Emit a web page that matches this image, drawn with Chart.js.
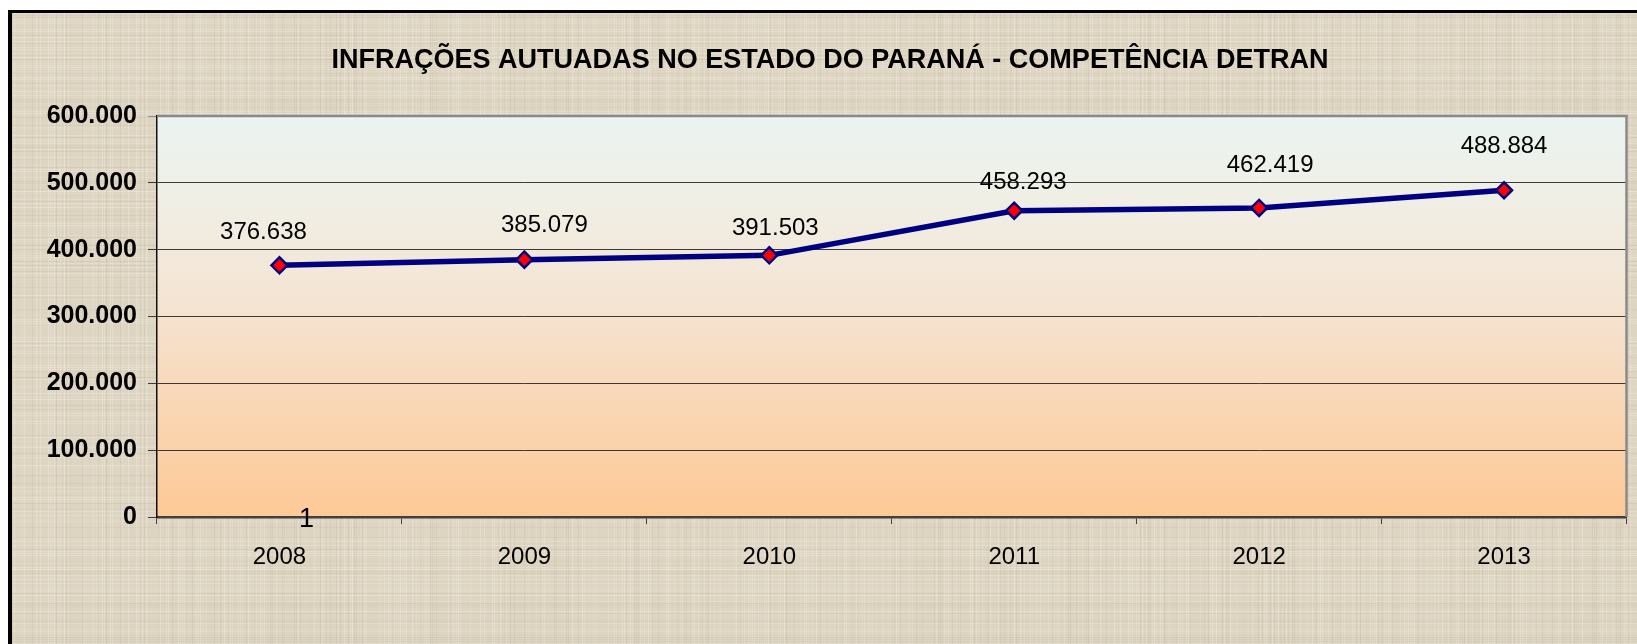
<!DOCTYPE html>
<html><head><meta charset="utf-8">
<script src="https://cdn.jsdelivr.net/npm/chart.js@4.4.0/dist/chart.umd.min.js"></script>
<style>html,body{margin:0;padding:0;background:#fff;overflow:hidden}#wrap{width:1637px;height:644px;position:relative}canvas{display:block}</style>
</head><body><div id="wrap"><canvas id="c" width="1637" height="644"></canvas></div>
<script>
const titleText = 'INFRAÇÕES AUTUADAS NO ESTADO DO PARANÁ - COMPETÊNCIA DETRAN';
const years = ['2008', '2009', '2010', '2011', '2012', '2013'];
const infracoes = [376638, 385079, 391503, 458293, 462419, 488884];
const yMin = 0, yMax = 600000, yStep = 100000;
const strayLabel = '1';

const FONT = '"Liberation Sans", Arial, Helvetica, sans-serif';
function fmt(n) { return String(n).replace(/\B(?=(\d{3})+(?!\d))/g, '.'); }
function hash(i) { const s = Math.sin(i * 12.9898 + 78.233) * 43758.5453; return s - Math.floor(s); }

const backgroundPlugin = {
  id: 'bg',
  beforeDraw(chart) {
    const ctx = chart.ctx, W = chart.width, H = chart.height;
    ctx.save();
    ctx.fillStyle = '#ffffff'; ctx.fillRect(0, 0, W, H);
    ctx.fillStyle = '#ddd4c1'; ctx.fillRect(8, 10, W - 8, H - 10);
    // fine linen texture
    for (let x = 12, k = 0; x < W; x += 2, k++) {
      const h = hash(k);
      if (h > 0.6) { ctx.fillStyle = 'rgba(246,242,232,' + (0.12 + 0.25 * hash(k + 500)) + ')'; ctx.fillRect(x, 13, 1, H); }
      else if (h < 0.2) { ctx.fillStyle = 'rgba(175,163,140,' + (0.06 + 0.14 * hash(k + 900)) + ')'; ctx.fillRect(x, 13, 1, H); }
    }
    for (let y = 13, k = 0; y < H; y += 2, k++) {
      const h = hash(k + 3000);
      if (h > 0.6) { ctx.fillStyle = 'rgba(246,242,232,' + (0.12 + 0.25 * hash(k + 3500)) + ')'; ctx.fillRect(12, y, W, 1); }
      else if (h < 0.2) { ctx.fillStyle = 'rgba(175,163,140,' + (0.06 + 0.14 * hash(k + 3900)) + ')'; ctx.fillRect(12, y, W, 1); }
    }
    ctx.fillStyle = '#000';
    ctx.fillRect(8, 10, 4, H - 10);
    ctx.fillRect(8, 10, W - 8, 3);
    // plot area gradient
    const a = chart.chartArea;
    const g = ctx.createLinearGradient(0, a.top, 0, a.bottom);
    g.addColorStop(0, '#eaf4f1');
    g.addColorStop(0.2, '#f0efe6');
    g.addColorStop(0.45, '#f4e5d4');
    g.addColorStop(1, '#fec996');
    ctx.fillStyle = g;
    ctx.fillRect(a.left, a.top, a.right - a.left, a.bottom - a.top);
    // title
    ctx.fillStyle = '#000';
    ctx.font = 'bold 28px ' + FONT;
    ctx.textAlign = 'center'; ctx.textBaseline = 'middle';
    ctx.fillText(titleText, 830, 60, 997);
    ctx.restore();
  },
  afterDraw(chart) {
    const ctx = chart.ctx, a = chart.chartArea;
    ctx.save();
    ctx.strokeStyle = '#8a8a8a'; ctx.lineWidth = 2.5;
    ctx.beginPath(); ctx.moveTo(a.left, a.top); ctx.lineTo(a.right, a.top); ctx.lineTo(a.right, a.bottom); ctx.stroke();
    ctx.restore();
  }
};

const valueLabelPlugin = {
  id: 'valueLabels',
  afterDatasetsDraw(chart, args, opts) {
    const ctx = chart.ctx, meta = chart.getDatasetMeta(0);
    const ds = chart.data.datasets[0].data;
    ctx.save();
    ctx.fillStyle = '#000';
    ctx.font = '24px ' + FONT;
    ctx.textAlign = 'center'; ctx.textBaseline = 'middle';
    meta.data.forEach((pt, i) => {
      const o = opts.offsets[i] || [0, -32];
      ctx.fillText(fmt(ds[i]), pt.x + o[0], pt.y + o[1]);
    });
    // stray "1" label sitting on the axis under 2008
    const xs = chart.scales.x, ys = chart.scales.y;
    ctx.font = '27px ' + FONT;
    ctx.fillText(strayLabel, xs.getPixelForValue(0) + 27, ys.getPixelForValue(0) + 3);
    ctx.restore();
  }
};

new Chart(document.getElementById('c'), {
  type: 'line',
  data: {
    labels: years,
    datasets: [{
      data: infracoes,
      borderColor: '#000080',
      borderWidth: 5.5,
      pointStyle: 'rectRot',
      pointRadius: 8,
      pointBorderWidth: 2.5,
      pointBackgroundColor: '#ff0000',
      pointBorderColor: '#000080',
      tension: 0,
      clip: false
    }]
  },
  options: {
    responsive: false,
    animation: false,
    devicePixelRatio: 1,
    layout: { padding: { left: 0, right: 4, top: 116, bottom: 57 } },
    plugins: {
      legend: { display: false },
      tooltip: { enabled: false },
      title: { display: false },
      valueLabels: { offsets: [[-16, -33], [20, -34], [6, -27], [9, -28], [11, -43], [0, -44]] }
    },
    scales: {
      x: {
        offset: true,
        grid: { offset: true, drawOnChartArea: false, drawTicks: true, tickLength: 7, color: '#404040', lineWidth: 1 },
        border: { display: true, color: '#404040', width: 2.5 },
        ticks: { color: '#000', font: { family: FONT, size: 24 }, padding: 19, maxRotation: 0 },
        afterFit(s) { s.height = 70; }
      },
      y: {
        min: yMin, max: yMax,
        grid: {
          color: (c) => c.tick && c.tick.value === yMax ? '#8a8a8a' : '#3a3a3a',
          lineWidth: 1, tickLength: 9, drawTicks: true
        },
        border: { display: true, color: '#111', width: 1.5 },
        ticks: { stepSize: yStep, color: '#000', font: { family: FONT, size: 25, weight: 'bold' }, padding: 11, callback: (v) => fmt(v) },
        afterFit(s) { s.width = 157; }
      }
    }
  },
  plugins: [backgroundPlugin, valueLabelPlugin]
});
</script>
</body></html>
